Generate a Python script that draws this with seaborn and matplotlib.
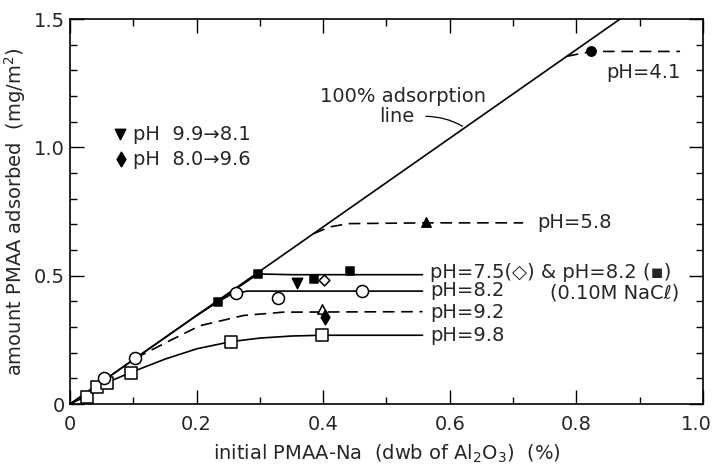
import matplotlib
matplotlib.use("Agg")
import matplotlib.pyplot as plt
import matplotlib.transforms as mtransforms
import seaborn as sns
import pandas as pd
from matplotlib.ticker import FixedLocator, FixedFormatter

# ---------------- data ----------------
line100_x = [0.0, 0.869]
line100_y = [0.0, 1.5]

ph98_x = [0.0, 0.025, 0.05, 0.097, 0.15, 0.20, 0.254, 0.30, 0.35, 0.398, 0.45, 0.557]
ph98_y = [0.0, 0.03, 0.075, 0.124, 0.175, 0.215, 0.243, 0.257, 0.265, 0.268, 0.268, 0.268]

ph82_x = [0.0, 0.20, 0.235, 0.255, 0.28, 0.557]
ph82_y = [0.0, 0.345, 0.40, 0.428, 0.44, 0.44]

ph75_x = [0.20, 0.297, 0.35, 0.557]
ph75_y = [0.345, 0.507, 0.504, 0.504]

ph92_x = [0.103, 0.16, 0.205, 0.274, 0.337, 0.557]
ph92_y = [0.178, 0.25, 0.305, 0.345, 0.358, 0.36]

ph58_x = [0.385, 0.41, 0.44, 0.563, 0.716]
ph58_y = [0.664, 0.69, 0.703, 0.706, 0.706]

ph41_x = [0.785, 0.824, 0.964]
ph41_y = [1.355, 1.374, 1.374]

osq_x = [0.026, 0.043, 0.058, 0.096, 0.254, 0.398]
osq_y = [0.029, 0.068, 0.081, 0.122, 0.243, 0.268]
ocirc_x = [0.053, 0.103, 0.263, 0.329, 0.462]
ocirc_y = [0.103, 0.178, 0.432, 0.415, 0.439]
fsq_x = [0.234, 0.297, 0.385, 0.443]
fsq_y = [0.396, 0.507, 0.488, 0.52]
odia_x = [0.401]
odia_y = [0.484]
ftridown_x = [0.359]
ftridown_y = [0.471]
otri_x = [0.398]
otri_y = [0.372]
fdia_x = [0.403]
fdia_y = [0.341]
ftri_x = [0.563]
ftri_y = [0.71]
fcirc_x = [0.824]
fcirc_y = [1.374]
key_x = [0.079, 0.081]
key_y = [1.051, 0.953]

xticks = [0, 0.2, 0.4, 0.6, 0.8, 1.0]
xtick_labels = ["0", "0.2", "0.4", "0.6", "0.8", "1.0"]
yticks = [0, 0.5, 1.0, 1.5]
ytick_labels = ["0", "0.5", "1.0", "1.5"]

# ---------------- figure ----------------
sns.set_style("ticks")
plt.rcParams["font.family"] = ["DejaVu Sans"]
plt.rcParams["mathtext.default"] = "regular"

fig = plt.figure(figsize=(7.15, 4.66), dpi=100)
ax = fig.add_axes([0.098, 0.133, 0.885, 0.826])

lw = 1.2
k = "black"

def line(x, y, ls="-"):
    sns.lineplot(data=pd.DataFrame({"x": x, "y": y}), x="x", y="y", ax=ax,
                 color=k, lw=lw, linestyle=ls, estimator=None, sort=True)

line(line100_x, line100_y)
line(ph98_x, ph98_y)
line(ph82_x, ph82_y)
line(ph75_x, ph75_y)
line(ph92_x, ph92_y, ls=(0, (7, 4)))
line(ph58_x, ph58_y, ls=(0, (7, 4)))
line(ph41_x, ph41_y, ls=(0, (7, 4)))

def pts(x, y, marker, s, filled):
    sns.scatterplot(x=x, y=y, ax=ax, marker=marker, s=s,
                    facecolor=(k if filled else "white"), edgecolor=k,
                    linewidth=1.1, zorder=5)

pts(osq_x, osq_y, "s", 75, False)
pts(ocirc_x, ocirc_y, "o", 75, False)
pts(fsq_x, fsq_y, "s", 40, True)
pts(odia_x, odia_y, "D", 30, False)
pts(ftridown_x, ftridown_y, "v", 55, True)
pts(otri_x, otri_y, "^", 45, False)
pts(fdia_x, fdia_y, "d", 55, True)
pts(ftri_x, ftri_y, "^", 45, True)
pts(fcirc_x, fcirc_y, "o", 45, True)
pts(key_x[:1], key_y[:1], "v", 55, True)
pts(key_x[1:], key_y[1:], "d", 55, True)

fs = 14
ax.text(0.0995, key_y[0], "pH  9.9\u21928.1", fontsize=fs, va="center", ha="left")
ax.text(0.0995, key_y[1], "pH  8.0\u21929.6", fontsize=fs, va="center", ha="left")

ax.text(0.395, 1.199, "100% adsorption", fontsize=fs, va="center", ha="left")
ax.text(0.488, 1.121, "line", fontsize=fs, va="center", ha="left")
ax.annotate("", xy=(0.624, 1.077), xytext=(0.558, 1.121),
            arrowprops=dict(arrowstyle="-", color=k, lw=0.9,
                            connectionstyle="arc3,rad=-0.15"))

ax.text(0.848, 1.293, "pH=4.1", fontsize=fs, va="center", ha="left")
ax.text(0.738, 0.707, "pH=5.8", fontsize=fs, va="center", ha="left")
ax.text(0.569, 0.512, "pH=7.5(\u25C7) & pH=8.2 (\u25AA)", fontsize=fs, va="center", ha="left")
ax.text(0.758, 0.434, "(0.10M NaC\u2113)", fontsize=fs, va="center", ha="left")
ax.text(0.569, 0.443, "pH=8.2", fontsize=fs, va="center", ha="left")
ax.text(0.569, 0.358, "pH=9.2", fontsize=fs, va="center", ha="left")
ax.text(0.569, 0.268, "pH=9.8", fontsize=fs, va="center", ha="left")

ax.set_xlim(0, 1.0)
ax.set_ylim(0, 1.5)
ax.xaxis.set_major_locator(FixedLocator(xticks))
ax.xaxis.set_major_formatter(FixedFormatter(xtick_labels))
ax.yaxis.set_major_locator(FixedLocator(yticks))
ax.yaxis.set_major_formatter(FixedFormatter(ytick_labels))
ax.xaxis.set_minor_locator(FixedLocator([0.1, 0.3, 0.5, 0.7, 0.9]))
ax.yaxis.set_minor_locator(FixedLocator([0.1, 0.2, 0.3, 0.4, 0.6, 0.7, 0.8, 0.9,
                                         1.1, 1.2, 1.3, 1.4]))
ax.tick_params(which="both", direction="in", top=True, right=True,
               labelsize=14, width=1.0, color=k)
ax.tick_params(axis="x", pad=8)
ax.tick_params(axis="y", pad=4)
ax.tick_params(which="major", length=10)
ax.tick_params(which="minor", length=5)
for sp in ax.spines.values():
    sp.set_visible(True)
    sp.set_linewidth(1.2)
    sp.set_color(k)

# keep the last x tick label inside the figure
last = ax.xaxis.get_major_ticks()[-1].label1
last.set_transform(last.get_transform() +
                   mtransforms.ScaledTranslation(-5 / 72, 0, fig.dpi_scale_trans))

ax.set_xlabel("initial PMAA-Na  (dwb of Al$_2$O$_3$)  (%)", fontsize=14, labelpad=6)
ax.set_ylabel("amount PMAA adsorbed  (mg/m$^2$)", fontsize=14, labelpad=4)

fig.savefig("out.png", dpi=100)
